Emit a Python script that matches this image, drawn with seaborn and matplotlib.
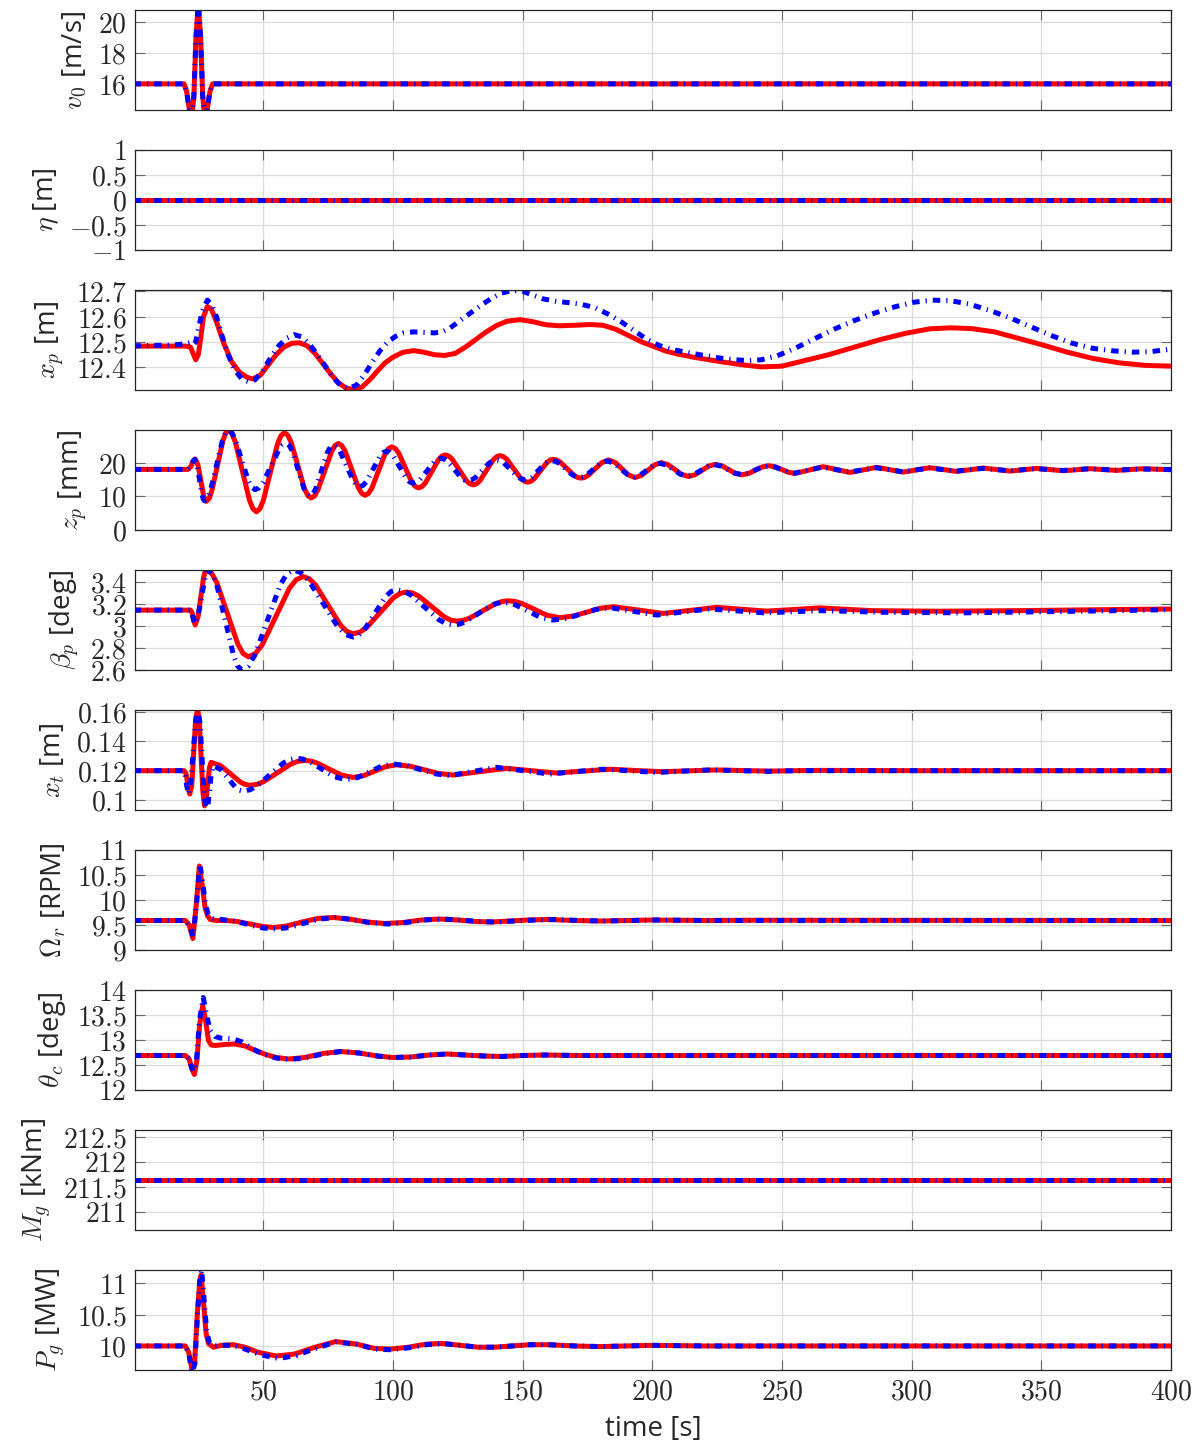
import matplotlib
matplotlib.use("Agg")
import matplotlib.pyplot as plt
from matplotlib.ticker import FuncFormatter
import seaborn as sns

# ------------------------------------------------------------------
# Time histories (time in s). "red" = solid response, "blue" = dash-dot
# ------------------------------------------------------------------

# Rotor-effective wind speed v0 [m/s] (same input for both runs)
t_v0 = [0, 19.5, 20.5, 21.5, 22.5, 23.3, 24.1, 25, 25.9, 26.7, 27.5, 28.5, 29.5, 30.5, 400]
v0 = [16, 16, 15.5, 14.4, 13.8, 15.2, 19.0, 21.3, 19.0, 15.2, 13.8, 14.4, 15.5, 16, 16]

# Wave elevation eta [m]
t_eta = [0, 400]
eta = [0.0, 0.0]

# Platform surge x_p [m]
t_xp_red = [0, 20, 22, 23, 24, 25, 26, 27, 28.5, 30, 32, 35, 38, 41, 44, 46, 49, 52, 55,
            58, 61, 64, 67, 70, 73, 76, 79, 82, 85, 88, 91, 94, 97, 100, 104, 108, 112,
            116, 120, 124, 128, 132, 136, 140, 144, 149, 154, 159, 164, 170, 176, 181,
            186, 191, 196, 200, 205, 210, 216, 222, 228, 235, 242, 250, 258, 268, 278,
            288, 298, 307, 315, 323, 332, 341, 350, 360, 370, 380, 390, 400]
xp_red = [12.484, 12.484, 12.48, 12.455, 12.43, 12.45, 12.52, 12.60, 12.64, 12.63, 12.58,
          12.49, 12.42, 12.38, 12.36, 12.355, 12.37, 12.41, 12.45, 12.48, 12.495, 12.497,
          12.485, 12.455, 12.415, 12.375, 12.34, 12.318, 12.313, 12.322, 12.35, 12.385,
          12.418, 12.44, 12.46, 12.466, 12.46, 12.45, 12.447, 12.455, 12.48, 12.51, 12.54,
          12.565, 12.582, 12.588, 12.58, 12.568, 12.564, 12.566, 12.569, 12.566, 12.55,
          12.525, 12.50, 12.485, 12.465, 12.452, 12.44, 12.43, 12.42, 12.41, 12.402,
          12.405, 12.425, 12.45, 12.48, 12.51, 12.535, 12.552, 12.556, 12.553, 12.54,
          12.515, 12.49, 12.46, 12.435, 12.418, 12.408, 12.405]
t_xp_blue = [0, 15, 20, 22, 23, 24, 25, 26.5, 28.5, 30, 32, 34, 36.5, 39, 42, 44.5, 47, 50,
             53, 56, 59, 62, 65, 68, 71, 74, 77, 80, 83, 86, 89, 92, 95, 98, 101, 104, 108,
             112, 116, 119, 122, 126, 130, 134, 138, 142, 146, 150, 154, 158, 163, 168, 173,
             178, 183, 188, 193, 198, 203, 208, 214, 220, 226, 232, 237, 242, 248, 255, 262,
             270, 278, 286, 294, 301, 308, 315, 322, 330, 338, 346, 354, 362, 370, 378, 385,
             392, 400]
xp_blue = [12.485, 12.488, 12.493, 12.498, 12.49, 12.50, 12.55, 12.62, 12.665, 12.65, 12.60,
           12.53, 12.45, 12.39, 12.352, 12.343, 12.352, 12.39, 12.44, 12.485, 12.515, 12.529,
           12.52, 12.49, 12.45, 12.405, 12.36, 12.327, 12.317, 12.33, 12.37, 12.42, 12.465,
           12.50, 12.522, 12.535, 12.54, 12.538, 12.536, 12.54, 12.555, 12.585, 12.615,
           12.645, 12.672, 12.693, 12.703, 12.70, 12.685, 12.67, 12.66, 12.655, 12.648,
           12.635, 12.61, 12.58, 12.545, 12.51, 12.485, 12.47, 12.458, 12.447, 12.437,
           12.43, 12.427, 12.43, 12.445, 12.475, 12.51, 12.55, 12.585, 12.615, 12.64,
           12.657, 12.665, 12.663, 12.65, 12.625, 12.595, 12.56, 12.525, 12.495, 12.475,
           12.465, 12.46, 12.462, 12.472]

# Platform heave z_p [mm]
t_zp_red = [0, 21, 22.2, 23.0, 23.8,
            24.9, 25.95, 27.0, 27.56, 28.1, 29.16, 30.2, 32.35, 34.5, 35.54, 36.6, 37.95, 39.3, 42.0, 44.7, 46.05, 47.4, 48.75,
            50.1, 52.8, 55.5, 56.85, 58.2, 59.49, 60.8, 63.35, 65.9, 67.21, 68.5, 69.81, 71.1, 73.75, 76.4, 77.69, 79, 80.29,
            81.6, 84.15, 86.7, 88.01, 89.3, 90.59, 91.9, 94.45, 97.0, 98.31, 99.6, 100.89, 102.2, 104.75, 107.3, 108.61, 109.9, 111.19,
            112.5, 115.05, 117.6, 118.91, 120.2, 121.55, 122.9, 125.6, 128.3, 129.65, 131, 132.29, 133.6, 136.15, 138.7, 140.01, 141.3, 142.64,
            144, 146.65, 149.3, 150.66, 152, 153.23, 154.45, 156.9, 159.35, 160.58, 161.8, 163.15, 164.5, 167.2, 169.9, 171.25, 172.6, 173.93,
            175.25, 177.9, 180.55, 183.2, 185.75, 188.3, 190.85, 193.4, 195.9, 198.45, 201.0, 203.5,
            206.1, 208.75, 211.4, 214, 216.6, 219.15, 221.7, 224.3, 226.9, 229.45, 232.0, 234.6,
            237.2, 239.75, 242.3, 244.9, 247.5, 250, 252.5, 255.1,
            260.5, 265.9, 271, 276.2, 281.3, 286.5, 291.6, 296.8, 302, 307, 312.2, 317.4,
            322.5, 327.6, 332.8, 338, 343.1, 348.2, 353.3, 358.5, 363.6, 368.8, 373.9, 379,
            384.1, 389.3, 400]
zp_red = [18.0, 18.0, 18.9, 20.5, 21.1,
          19.26, 14.8, 10.34, 8.98, 8.5, 9.3, 11.58, 19.05, 26.52, 28.8, 29.6, 28.68, 26.07, 17.5, 8.93, 6.32, 5.4, 6.29,
          8.83, 17.15, 25.47, 28.01, 28.9, 28.16, 26.07, 19.2, 12.33, 10.24, 9.5, 10.12, 11.87, 17.6, 23.33, 25.08, 25.7, 25.11,
          23.45, 18.0, 12.55, 10.89, 10.3, 10.85, 12.4, 17.5, 22.6, 24.15, 24.7, 24.24, 22.92, 18.6, 14.28, 12.96, 12.5, 12.87,
          13.93, 17.4, 20.87, 21.93, 22.3, 21.96, 21.0, 17.85, 14.7, 13.74, 13.4, 13.73, 14.67, 17.75, 20.83, 21.77, 22.1, 21.8,
          20.95, 18.15, 15.35, 14.5, 14.2, 14.46, 15.19, 17.6, 20.0, 20.74, 21.0, 20.79, 20.18, 18.2, 16.22, 15.61, 15.4, 15.61,
          16.19, 18.1, 20.0, 20.8, 20.04, 18.2, 16.36, 15.6, 16.24, 17.8, 19.36, 20.0,
          19.4, 17.95, 16.5, 15.9, 16.43, 17.7, 18.97, 19.5, 19.05, 17.95, 16.85, 16.4,
          16.8, 17.75, 18.7, 19.1, 18.76, 17.95, 17.14, 16.8,
          17.8, 18.8, 17.95, 17.1, 17.85, 18.6, 17.9, 17.2, 17.85, 18.5, 17.95, 17.4,
          17.9, 18.4, 17.95, 17.5, 17.9, 18.3, 17.95, 17.6, 17.9, 18.2, 17.95, 17.7,
          17.95, 18.2, 17.9]
t_zp_blue = [0, 21, 22.2, 22.9, 23.6,
             24.55, 25.5, 26.45, 26.93, 27.4, 28.55, 29.7, 32.0, 34.3, 35.45, 36.6, 37.89, 39.2, 41.75, 44.3, 45.61, 46.9, 48.41,
             49.9, 52.95, 56.0, 57.49, 59, 60.13, 61.25, 63.5, 65.75, 66.88, 68, 69.13, 70.25, 72.5, 74.75, 75.88, 77, 78.29,
             79.6, 82.15, 84.7, 86.01, 87.3, 88.59, 89.9, 92.45, 95.0, 96.31, 97.6, 98.88, 100.15, 102.7, 105.25, 106.53, 107.8, 109.15,
             110.5, 113.2, 115.9, 117.25, 118.6, 119.89, 121.2, 123.75, 126.3, 127.61, 128.9, 130.29, 131.7, 134.45, 137.2, 138.61, 140, 141.38,
             142.75, 145.5, 148.25, 149.63, 151, 152.29, 153.6, 156.15, 158.7, 160.01, 161.3, 162.64, 164, 166.65, 169.3, 170.66, 172, 173.34,
             174.7, 177.35, 180, 182.7, 185.3, 187.85, 190.4, 193, 195.5, 198, 200.5, 203,
             205.6, 208.25, 210.9, 213.5, 216.1, 218.75, 221.4, 224, 226.6, 229.15, 231.7, 234.3,
             236.9, 239.5, 242.1, 244.7, 247.3, 249.85, 252.4, 255,
             260.35, 265.7, 270.85, 276, 281.15, 286.3, 291.45, 296.6, 301.7, 306.8, 312, 317.2,
             322.3, 327.4, 332.6, 337.8, 342.9, 348, 353.15, 358.3, 363.45, 368.6, 373.7, 378.8,
             383.95, 389.1, 400]
zp_blue = [18.0, 18.0, 18.8, 20.3, 21.0,
           19.2, 14.85, 10.5, 9.17, 8.7, 9.49, 11.75, 19.15, 26.55, 28.81, 29.6, 28.93, 27.03, 20.8, 14.57, 12.67, 12.0, 12.52,
           14.0, 18.85, 23.7, 25.18, 25.7, 25.1, 23.4, 17.85, 12.3, 10.6, 10.0, 10.58, 12.22, 17.6, 22.98, 24.62, 25.2, 24.73,
           23.4, 19.05, 14.7, 13.37, 12.9, 13.3, 14.43, 18.15, 21.87, 23.0, 23.4, 23.04, 22.01, 18.65, 15.29, 14.26, 13.9, 14.18,
           14.98, 17.6, 20.22, 21.02, 21.3, 21.05, 20.32, 17.95, 15.58, 14.85, 14.6, 14.84, 15.5, 17.7, 19.9, 20.56, 20.8, 20.58,
           19.94, 17.85, 15.76, 15.12, 14.9, 15.12, 15.73, 17.75, 19.77, 20.38, 20.6, 20.41, 19.87, 18.1, 16.33, 15.79, 15.6, 15.79,
           16.32, 18.05, 19.78, 20.5, 19.81, 18.15, 16.49, 15.8, 16.38, 17.8, 19.22, 19.8,
           19.25, 17.9, 16.55, 16.0, 16.5, 17.7, 18.9, 19.4, 18.98, 17.95, 16.92, 16.5,
           16.87, 17.75, 18.63, 19.0, 18.69, 17.95, 17.2, 16.9,
           17.8, 18.7, 17.95, 17.2, 17.85, 18.5, 17.9, 17.3, 17.85, 18.4, 17.95, 17.5,
           17.9, 18.3, 17.95, 17.6, 17.9, 18.2, 17.95, 17.7, 17.95, 18.2, 18.0, 17.8,
           17.95, 18.1, 17.95]

# Platform pitch beta_p [deg]
t_bp_red = [0, 22, 22.6, 23.2, 23.8, 24.9, 25.95, 27.0, 27.56, 28.1, 30.13, 32.15, 36.2, 40.25, 42.28, 44.3, 46.94,
            49.6, 54.85, 60.1, 62.76, 65.4, 67.81, 70.2, 75.05, 79.9, 82.29, 84.7, 87.28, 89.85, 95, 100.15, 102.73, 105.3, 107.71,
            110.1, 114.95, 119.8, 122.19, 124.6, 127.1, 129.6, 134.6, 139.6, 142.1, 144.6, 147.08, 149.55, 154.5, 159.45,
            164.4, 169.55, 174.7, 179.85, 185, 194.6, 204.2, 214.5, 224.8, 234.4, 244, 254.3, 264.6, 274.8, 285, 310, 340, 370, 400]
bp_red = [3.145, 3.145, 3.12, 3.06, 3.01, 3.083, 3.26, 3.437, 3.491, 3.51, 3.48, 3.395, 3.115, 2.835, 2.75, 2.72, 2.748,
          2.827, 3.085, 3.343, 3.422, 3.45, 3.43, 3.374, 3.19, 3.006, 2.95, 2.93, 2.944, 2.985, 3.12, 3.255, 3.296, 3.31, 3.3,
          3.271, 3.178, 3.084, 3.055, 3.045, 3.052, 3.072, 3.138, 3.203, 3.223, 3.23, 3.224, 3.207, 3.153, 3.098,
          3.076, 3.091, 3.126, 3.161, 3.176, 3.146, 3.115, 3.142, 3.17, 3.153, 3.136, 3.15, 3.165, 3.152, 3.14, 3.135, 3.14, 3.148, 3.155]
t_bp_blue = [0, 22, 22.6, 23.1, 23.6, 24.9, 26.25, 27.6, 28.24, 28.9, 30.51, 32.1, 35.35, 38.6, 40.19, 41.8, 44.28,
             46.75, 51.7, 56.65, 59.13, 61.6, 64.49, 67.4, 73.15, 78.9, 81.81, 84.7, 86.79, 88.9, 93.05, 97.2, 99.31, 101.4, 104.14,
             106.9, 112.35, 117.8, 120.56, 123.3, 125.7, 128.1, 132.9, 137.7, 140.1, 142.5, 144.91, 147.3, 152.15, 157,
             161.8, 167.3, 172.75, 178.2, 183.7, 192.7, 201.7, 211.85, 222, 232.5, 243, 254, 265, 290, 320, 350, 380, 400]
bp_blue = [3.145, 3.145, 3.12, 3.06, 3.02, 3.092, 3.265, 3.438, 3.491, 3.51, 3.475, 3.377, 3.055, 2.733, 2.635, 2.60, 2.635,
           2.733, 3.055, 3.377, 3.475, 3.51, 3.487, 3.421, 3.205, 2.989, 2.923, 2.90, 2.916, 2.963, 3.115, 3.267, 3.314, 3.33, 3.318,
           3.283, 3.17, 3.057, 3.022, 3.01, 3.018, 3.04, 3.112, 3.185, 3.207, 3.215, 3.209, 3.192, 3.135, 3.078,
           3.055, 3.071, 3.111, 3.151, 3.167, 3.134, 3.10, 3.128, 3.155, 3.138, 3.12, 3.13, 3.14, 3.125, 3.12, 3.13, 3.14, 3.15]

# Tower-top fore-aft displacement x_t [m]
t_xt_red = [0, 19.5, 20.3, 21.0, 21.7, 22.5, 23.25, 24.0, 24.8, 25.45, 26.1, 26.75, 27.4,
            28.0, 28.65, 29.3, 29.9, 33.65, 37.4, 41.15, 43.03, 44.9, 47.54, 50.2, 55.45, 60.7,
            63.36, 66, 68.34, 70.7, 75.35, 80, 84.7, 88.9, 93.05, 97.2, 101.4, 106.9, 112.35,
            117.8, 123.3, 133.55, 143.8, 153.4, 163, 173.35, 183.7, 193.85, 204, 214.4, 224.8,
            234.9, 245, 255, 265, 300, 400]
xt_red = [0.12, 0.12, 0.118, 0.11, 0.104, 0.11, 0.133, 0.156, 0.162, 0.152, 0.129, 0.106, 0.096,
          0.1, 0.111, 0.122, 0.1257, 0.1234, 0.1179, 0.1123, 0.1106, 0.110, 0.1106, 0.1125, 0.1185, 0.1245,
          0.1264, 0.127, 0.1266, 0.1253, 0.1212, 0.1171, 0.1154, 0.1167, 0.1197, 0.1227, 0.124, 0.123, 0.1205,
          0.118, 0.117, 0.1193, 0.1216, 0.12, 0.1184, 0.1197, 0.121, 0.1201, 0.1193, 0.1199, 0.1205,
          0.1201, 0.1197, 0.12, 0.1202, 0.12, 0.12]
t_xt_blue = [0, 19.2, 19.9, 20.5, 21.2, 22.1, 23.05, 24.0, 24.9, 25.7, 26.5, 27.3, 28.1,
             28.75, 29.4, 30.05, 30.7, 33.6, 36.5, 39.4, 40.85, 42.3, 44.88, 47.45, 52.6, 57.75,
             60.33, 62.9, 65.3, 67.7, 72.5, 77.3, 82.1, 86.6, 91.05, 95.5, 100, 105.5, 111,
             116.5, 122, 131, 140, 150.25, 160.5, 170.75, 181, 191.35, 201.7, 211.85, 222,
             233.5, 245, 255, 265, 300, 400]
xt_blue = [0.12, 0.12, 0.118, 0.11, 0.104, 0.1125, 0.133, 0.1535, 0.162, 0.152, 0.127, 0.102, 0.092,
           0.0966, 0.1077, 0.1188, 0.1234, 0.1209, 0.1147, 0.1085, 0.1067, 0.106, 0.1069, 0.1093, 0.1173, 0.1252,
           0.1276, 0.1285, 0.1279, 0.1264, 0.1212, 0.1159, 0.1138, 0.1154, 0.1192, 0.123, 0.1246, 0.1234, 0.1206,
           0.1178, 0.1166, 0.1195, 0.1223, 0.12, 0.1177, 0.1194, 0.121, 0.1199, 0.1188, 0.1197, 0.1205,
           0.12, 0.1195, 0.12, 0.12, 0.12, 0.12]

# Rotor speed Omega_r [RPM]
t_om_red = [0, 20, 21.5, 22.9, 24.2, 25.4, 26.5, 27.6, 28.6, 29.6, 32, 36, 40, 45, 50, 54,
            59, 65, 71, 77, 83, 90, 97, 104, 111, 118, 125, 132, 138, 145, 152, 160, 170,
            180, 190, 200, 220, 240, 400]
om_red = [9.59, 9.59, 9.5, 9.23, 9.9, 10.68, 10.3, 9.85, 9.68, 9.61, 9.59, 9.59, 9.57, 9.52,
          9.47, 9.45, 9.48, 9.56, 9.63, 9.65, 9.62, 9.56, 9.53, 9.55, 9.6, 9.62, 9.6, 9.57,
          9.56, 9.58, 9.6, 9.61, 9.59, 9.58, 9.59, 9.6, 9.59, 9.595, 9.59]
t_om_blue = [0, 20, 21.5, 23, 24.3, 25.6, 26.7, 27.8, 28.8, 30, 34, 40, 45, 50, 55, 60, 66,
             72, 78, 84, 91, 98, 105, 112, 119, 126, 133, 140, 147, 155, 163, 172, 182, 192,
             202, 220, 400]
om_blue = [9.59, 9.59, 9.5, 9.27, 9.9, 10.72, 10.35, 9.9, 9.72, 9.63, 9.61, 9.57, 9.5, 9.44,
           9.42, 9.45, 9.54, 9.62, 9.65, 9.61, 9.55, 9.52, 9.55, 9.6, 9.62, 9.6, 9.57, 9.56,
           9.58, 9.6, 9.61, 9.59, 9.58, 9.59, 9.6, 9.59, 9.59]

# Collective pitch theta_c [deg]
t_th_red = [0, 20, 21.5, 22.5, 23.5, 24.5, 25.5, 26.7, 27.8, 28.9, 30, 31.5, 35, 39, 43, 47,
            51, 55, 60, 66, 73, 80, 87, 94, 100, 107, 114, 121, 128, 135, 142, 150, 158, 170,
            185, 400]
th_red = [12.69, 12.69, 12.62, 12.42, 12.31, 12.6, 13.3, 13.69, 13.4, 12.99, 12.9, 12.89,
          12.91, 12.92, 12.88, 12.79, 12.71, 12.65, 12.62, 12.65, 12.73, 12.77, 12.74, 12.68,
          12.65, 12.66, 12.7, 12.72, 12.7, 12.68, 12.67, 12.69, 12.7, 12.69, 12.69, 12.69]
t_th_blue = [0, 20, 21.5, 22.4, 23.3, 24.3, 25.5, 26.9, 28.2, 29.6, 31.5, 33.5, 38.5, 42, 46,
             50, 55, 60, 66, 73, 80, 87, 94, 100, 107, 114, 121, 128, 135, 142, 150, 158, 170,
             400]
th_blue = [12.69, 12.69, 12.63, 12.45, 12.37, 12.6, 13.4, 13.85, 13.5, 13.19, 13.07, 13.04,
           13.02, 12.96, 12.82, 12.72, 12.64, 12.61, 12.64, 12.72, 12.77, 12.74, 12.68, 12.65,
           12.66, 12.7, 12.72, 12.7, 12.68, 12.67, 12.69, 12.7, 12.69, 12.69]

# Generator torque M_g [kNm]
t_mg = [0, 400]
mg = [211.634, 211.634]

# Generator power P_g [MW]
t_pg_red = [0, 20, 21.3, 22.5, 23.6, 24.6, 25.5, 26.1, 27, 28, 28.9, 30.8, 34, 38.5, 43, 48,
            55, 62, 70, 78, 86, 93, 99, 106, 113, 119, 126, 133, 139, 146, 153, 160, 170, 180,
            190, 200, 220, 400]
pg_red = [10.0, 10.0, 9.9, 9.64, 9.75, 10.5, 11.0, 11.13, 10.7, 10.2, 10.04, 9.98, 10.01,
          10.02, 9.98, 9.9, 9.84, 9.87, 9.98, 10.07, 10.03, 9.96, 9.95, 9.98, 10.03, 10.04,
          10.01, 9.98, 9.98, 10.0, 10.02, 10.02, 10.0, 9.99, 10.0, 10.01, 10.0, 10.0]
t_pg_blue = [0, 20, 21.3, 22.6, 23.7, 24.7, 25.6, 26.3, 27.2, 28.2, 29.2, 31, 34, 38.5, 43,
             49, 56, 63, 70, 78, 86, 93, 99, 106, 113, 119, 126, 133, 139, 146, 153, 160, 170,
             180, 190, 200, 220, 400]
pg_blue = [10.0, 10.0, 9.88, 9.58, 9.72, 10.5, 11.05, 11.21, 10.75, 10.25, 10.06, 10.0, 10.01,
           10.01, 9.95, 9.86, 9.80, 9.85, 9.96, 10.06, 10.03, 9.95, 9.94, 9.97, 10.02, 10.04,
           10.01, 9.98, 9.98, 10.0, 10.02, 10.02, 10.0, 9.99, 10.0, 10.01, 10.0, 10.0]

# Axis labels and ticks
y_labels = [r"$v_0$ [m/s]", r"$\eta$ [m]", r"$x_p$ [m]", r"$z_p$ [mm]", r"$\beta_p$ [deg]",
            r"$x_t$ [m]", r"$\Omega_r$ [RPM]", r"$\theta_c$ [deg]", r"$M_g$ [kNm]", r"$P_g$ [MW]"]
y_ticks = [[16, 18, 20], [-1, -0.5, 0, 0.5, 1], [12.4, 12.5, 12.6, 12.7], [0, 10, 20],
           [2.6, 2.8, 3, 3.2, 3.4], [0.1, 0.12, 0.14, 0.16], [9, 9.5, 10, 10.5, 11],
           [12, 12.5, 13, 13.5, 14], [211, 211.5, 212, 212.5], [10, 10.5, 11]]
y_limits = [(14.3, 20.8), (-1, 1), (12.311, 12.705), (0, 29.7), (2.6, 3.51),
            (0.0931, 0.1615), (9, 11), (12, 14), (210.634, 212.634), (9.617, 11.21)]
x_ticks = [50, 100, 150, 200, 250, 300, 350, 400]
x_label = "time [s]"

series = [
    (t_v0, v0, t_v0, v0),
    (t_eta, eta, t_eta, eta),
    (t_xp_red, xp_red, t_xp_blue, xp_blue),
    (t_zp_red, zp_red, t_zp_blue, zp_blue),
    (t_bp_red, bp_red, t_bp_blue, bp_blue),
    (t_xt_red, xt_red, t_xt_blue, xt_blue),
    (t_om_red, om_red, t_om_blue, om_blue),
    (t_th_red, th_red, t_th_blue, th_blue),
    (t_mg, mg, t_mg, mg),
    (t_pg_red, pg_red, t_pg_blue, pg_blue),
]

# ------------------------------------------------------------------
# Styling
# ------------------------------------------------------------------
sns.set_theme(style="ticks")
INK = (0.15, 0.15, 0.15)
plt.rcParams.update({
    "font.family": ["Open Sans", "DejaVu Sans"],
    "mathtext.fontset": "cm",
    "axes.edgecolor": INK,
    "axes.linewidth": 0.9,
    "text.color": INK,
    "axes.labelcolor": INK,
})

RED = "#ff0000"
BLUE = "#0000ff"
LW = 3.6
DASHDOT = (0, (1.5, 1.2, 0.25, 1.2))
GRID = (0.86, 0.86, 0.86)

FIG_W, FIG_H = 1202, 1443
LEFT, RIGHT = 135, 1171
PANEL_H, PANEL_STEP, FIRST_TOP = 100, 140, 10

fig = plt.figure(figsize=(FIG_W / 100, FIG_H / 100), dpi=100)
fmt = FuncFormatter(lambda v, _: f"${v:g}$")

n = len(series)
for i, (tr, yr, tb, yb) in enumerate(series):
    top = FIRST_TOP + PANEL_STEP * i
    ax = fig.add_axes([LEFT / FIG_W, 1 - (top + PANEL_H) / FIG_H,
                       (RIGHT - LEFT) / FIG_W, PANEL_H / FIG_H])
    sns.lineplot(x=tr, y=yr, ax=ax, color=RED, lw=LW, estimator=None,
                 solid_capstyle="butt", solid_joinstyle="round")
    sns.lineplot(x=tb, y=yb, ax=ax, color=BLUE, lw=LW, estimator=None,
                 linestyle=DASHDOT, dash_capstyle="butt", dash_joinstyle="round")

    ax.set_xlim(0.6, 400)
    ax.set_ylim(*y_limits[i])
    ax.set_xticks(x_ticks)
    ax.set_yticks(y_ticks[i])
    ax.xaxis.set_major_formatter(fmt)
    ax.yaxis.set_major_formatter(fmt)
    ax.set_axisbelow(True)
    ax.grid(True, color=GRID, linewidth=0.9)
    for s in ax.spines.values():
        s.set_visible(True)
        s.set_color(INK)
        s.set_linewidth(0.9)
    ax.tick_params(direction="in", length=7, width=0.8, color=(0.4, 0.4, 0.4),
                   labelcolor=INK, labelsize=20, top=True, right=True, pad=6)
    ax.tick_params(axis="x", labelbottom=(i == n - 1))
    ax.set_ylabel(y_labels[i], fontsize=20, color=INK, labelpad=6)
    if i == n - 1:
        ax.set_xlabel(x_label, fontsize=20, color=INK, labelpad=6)
    else:
        ax.set_xlabel("")

fig.savefig("out.png", dpi=100)
